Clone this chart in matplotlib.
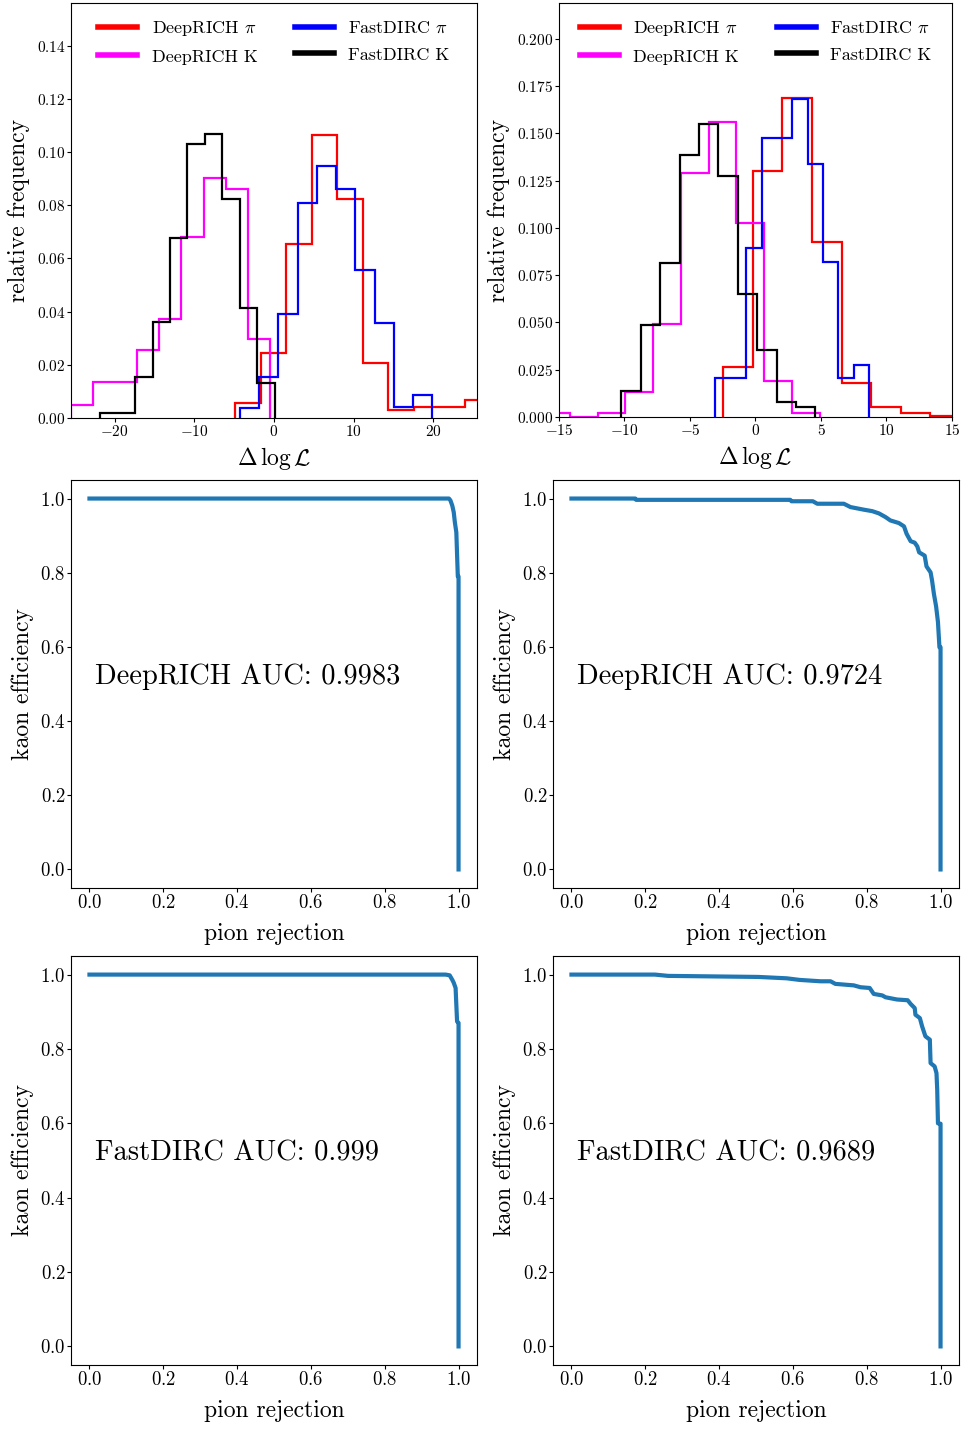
import numpy as np
import matplotlib
matplotlib.use("Agg")
import matplotlib.pyplot as plt
from matplotlib.lines import Line2D

plt.rcParams['font.family'] = 'serif'
plt.rcParams['font.serif'] = ['cmr10', 'DejaVu Serif']
plt.rcParams['mathtext.fontset'] = 'cm'
plt.rcParams['axes.formatter.use_mathtext'] = True

# ---- histogram data (density), momentum bin A (left) ----
a_drich_pi_edges = [-4.84, -1.64, 1.56, 4.76, 7.96, 11.16, 14.36, 17.56, 20.76, 23.96, 27.16]
a_drich_pi = [0.0055, 0.0246, 0.0654, 0.1063, 0.0822, 0.0207, 0.0029, 0.0043, 0.0043, 0.0067]
a_drich_k_edges = [-28.24, -25.47, -22.70, -19.93, -17.16, -14.39, -11.62, -8.85, -6.08, -3.31, -0.54]
a_drich_k = [0.0003, 0.0049, 0.0135, 0.0135, 0.0256, 0.0373, 0.0682, 0.0904, 0.0859, 0.0298]
a_fdirc_pi_edges = [-4.29, -1.87, 0.55, 2.97, 5.39, 7.81, 10.23, 12.65, 15.07, 17.49, 19.91]
a_fdirc_pi = [0.0036, 0.0155, 0.039, 0.081, 0.0946, 0.0862, 0.0557, 0.0358, 0.004, 0.0088]
a_fdirc_k_edges = [-21.85, -19.65, -17.46, -15.26, -13.07, -10.87, -8.68, -6.48, -4.29, -2.09, 0.10]
a_fdirc_k = [0.002, 0.002, 0.0153, 0.0359, 0.0675, 0.103, 0.1066, 0.0823, 0.0413, 0.0133]

# ---- histogram data (density), momentum bin B (right) ----
b_drich_pi_edges = [-2.47, -0.21, 2.05, 4.31, 6.57, 8.83, 11.09, 13.35, 15.61, 17.87, 20.13]
b_drich_pi = [0.0266, 0.1303, 0.169, 0.0924, 0.0178, 0.0053, 0.002, 0.0004, 0.0, 0.0004]
b_drich_k_edges = [-16.30, -14.18, -12.06, -9.94, -7.82, -5.70, -3.58, -1.46, 0.66, 2.78, 4.90]
b_drich_k = [0.002, 0.0002, 0.002, 0.013, 0.049, 0.129, 0.156, 0.1026, 0.019, 0.002]
b_fdirc_pi_edges = [-3.06, -1.89, -0.71, 0.46, 1.63, 2.81, 3.98, 5.15, 6.33, 7.50, 8.67]
b_fdirc_pi = [0.0208, 0.0208, 0.0892, 0.1476, 0.1476, 0.1683, 0.1339, 0.0822, 0.0205, 0.0275]
b_fdirc_k_edges = [-10.23, -8.75, -7.27, -5.79, -4.31, -2.83, -1.35, 0.13, 1.61, 3.09, 4.57]
b_fdirc_k = [0.0136, 0.0487, 0.0815, 0.1384, 0.155, 0.1277, 0.0652, 0.0353, 0.0081, 0.0055]

# ---- ROC curves: pion rejection vs kaon efficiency ----
roc_a_drich_rej = [0.0, 0.974, 0.978, 0.983, 0.987, 0.990, 0.994, 0.998, 1.0, 1.0]
roc_a_drich_eff = [1.0, 1.0, 0.995, 0.981, 0.963, 0.936, 0.909, 0.79, 0.79, 0.0]
roc_a_fdirc_rej = [0.0, 0.965, 0.976, 0.983, 0.987, 0.992, 0.996, 1.0, 1.0]
roc_a_fdirc_eff = [1.0, 1.0, 0.998, 0.986, 0.978, 0.964, 0.874, 0.87, 0.0]
roc_b_drich_rej = [0, 0.173, 0.175, 0.593, 0.596, 0.654, 0.666, 0.738, 0.756, 0.792,
                   0.815, 0.833, 0.851, 0.864, 0.887, 0.901, 0.908, 0.919, 0.930, 0.937,
                   0.942, 0.957, 0.962, 0.973, 0.977, 0.982, 0.988, 0.993, 0.997, 1.0, 1.0]
roc_b_drich_eff = [1.0, 1.0, 0.9965, 0.9965, 0.9927, 0.9927, 0.986, 0.986, 0.977, 0.970,
                   0.966, 0.960, 0.950, 0.941, 0.934, 0.925, 0.905, 0.885, 0.881, 0.871,
                   0.855, 0.846, 0.817, 0.801, 0.779, 0.743, 0.709, 0.667, 0.599, 0.599, 0.0]
roc_b_fdirc_rej = [0, 0.226, 0.262, 0.506, 0.583, 0.618, 0.675, 0.702, 0.715, 0.765,
                   0.783, 0.808, 0.819, 0.842, 0.851, 0.882, 0.911, 0.919, 0.930, 0.932,
                   0.944, 0.950, 0.959, 0.971, 0.973, 0.984, 0.989, 0.991, 0.993, 1.0, 1.0]
roc_b_fdirc_eff = [1.0, 1.0, 0.9965, 0.9937, 0.990, 0.9857, 0.982, 0.982, 0.975, 0.971,
                   0.966, 0.964, 0.948, 0.944, 0.939, 0.933, 0.931, 0.921, 0.910, 0.892,
                   0.883, 0.861, 0.834, 0.825, 0.762, 0.753, 0.735, 0.690, 0.600, 0.599, 0.0]

auc_labels = ["DeepRICH AUC: 0.9983", "DeepRICH AUC: 0.9724",
              "FastDIRC AUC: 0.999", "FastDIRC AUC: 0.9689"]

W, H = 962, 1429
fig = plt.figure(figsize=(W / 100, H / 100), dpi=100)


def box(x0, y0, x1, y1):
    # pixel box (top-left origin) -> figure fraction
    return [x0 / W, (H - y1) / H, (x1 - x0) / W, (y1 - y0) / H]


ax_tl = fig.add_axes(box(71, 3, 477, 418))
ax_tr = fig.add_axes(box(559, 3, 952, 417))
ax_ml = fig.add_axes(box(71, 480, 477, 888))
ax_mr = fig.add_axes(box(553, 480, 959, 888))
ax_bl = fig.add_axes(box(71, 956, 477, 1365))
ax_br = fig.add_axes(box(553, 956, 959, 1365))

colors = {'dpi': 'red', 'dk': 'magenta', 'fpi': 'blue', 'fk': 'black'}


def draw_hist(ax, dpi, dk, fpi, fk, xlim, ylim):
    ax.stairs(dpi[1], dpi[0], color=colors['dpi'], lw=1.6)
    ax.stairs(dk[1], dk[0], color=colors['dk'], lw=1.6)
    ax.stairs(fpi[1], fpi[0], color=colors['fpi'], lw=1.6)
    ax.stairs(fk[1], fk[0], color=colors['fk'], lw=1.6)
    ax.set_xlim(*xlim)
    ax.set_ylim(*ylim)
    ax.set_xlabel(r'$\Delta\,\log\mathcal{L}$', fontsize=17, labelpad=5)
    ax.set_ylabel('relative frequency', fontsize=17, labelpad=5)
    ax.tick_params(labelsize=11, pad=1, length=3)
    handles = [Line2D([], [], color=colors['dpi'], lw=4),
               Line2D([], [], color=colors['dk'], lw=4),
               Line2D([], [], color=colors['fpi'], lw=4),
               Line2D([], [], color=colors['fk'], lw=4)]
    names = [r'DeepRICH $\pi$', 'DeepRICH K', r'FastDIRC $\pi$', 'FastDIRC K']
    ax.legend(handles, names, loc='upper center', ncol=2, frameon=False,
              fontsize=13, handlelength=2.15, columnspacing=2.1, labelspacing=0.6)


draw_hist(ax_tl, (a_drich_pi_edges, a_drich_pi), (a_drich_k_edges, a_drich_k),
          (a_fdirc_pi_edges, a_fdirc_pi), (a_fdirc_k_edges, a_fdirc_k),
          (-25.5, 25.5), (0, 0.156))
draw_hist(ax_tr, (b_drich_pi_edges, b_drich_pi), (b_drich_k_edges, b_drich_k),
          (b_fdirc_pi_edges, b_fdirc_pi), (b_fdirc_k_edges, b_fdirc_k),
          (-15, 15), (0, 0.219))

rocs = [(ax_ml, roc_a_drich_rej, roc_a_drich_eff, auc_labels[0]),
        (ax_mr, roc_b_drich_rej, roc_b_drich_eff, auc_labels[1]),
        (ax_bl, roc_a_fdirc_rej, roc_a_fdirc_eff, auc_labels[2]),
        (ax_br, roc_b_fdirc_rej, roc_b_fdirc_eff, auc_labels[3])]

for ax, rej, eff, lab in rocs:
    ax.plot(rej, eff, color='#1f77b4', lw=3)
    ax.text(0.014, 0.5, lab, fontsize=20.5)
    ax.set_xlabel('pion rejection', fontsize=17, labelpad=8.5)
    ax.set_ylabel('kaon efficiency', fontsize=17)
    ax.tick_params(labelsize=13.5, pad=1, length=3)

fig.savefig('out.png', dpi=100)
